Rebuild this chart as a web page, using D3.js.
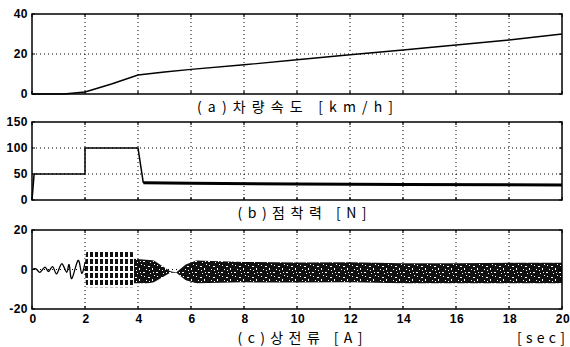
<!DOCTYPE html>
<html>
<head>
<meta charset="utf-8">
<script src="https://cdn.jsdelivr.net/npm/d3@7"></script>
<style>
  body { margin: 0; background: #fff; }
  svg text { fill: #000; }
  .tick-label { font-family: "Liberation Sans", Arial, sans-serif; font-weight: bold; font-size: 12px; letter-spacing: 0.5px; }
  .title { font-family: "Noto Sans CJK KR", "Liberation Sans", sans-serif; font-size: 14px; }
</style>
</head>
<body>
<div class="chart"></div>
<script>
// shared x axis
var timeTicks = [0, 2, 4, 6, 8, 10, 12, 14, 16, 18, 20];

// (a) vehicle speed
var speedT = [0, 1.2, 2, 3, 4, 5, 6, 8, 10, 12, 14, 16, 18, 20];
var speedV = [0, 0, 1, 5, 9.5, 11, 12.3, 14.6, 17.1, 19.6, 22, 24.5, 27, 30];
var speedTicks = [0, 20, 40];

// (b) adhesion force
var forceT = [0, 0.08, 2, 2, 4, 4.2, 6, 10, 14, 20];
var forceV = [0, 50, 50, 100, 100, 33, 32, 31, 30, 29];
var forceTicks = [0, 50, 100, 150];

// (c) phase current: start-up wave, then envelope of the dense band
var waveT = [0, 0.15, 0.3, 0.49, 0.62, 0.78, 0.93, 1.12, 1.31, 1.4, 1.5, 1.74, 1.88, 2.0];
var waveV = [0, 0.3, -1.4, 1.2, -1.0, 1.5, -2.2, 2.9, -1.4, 2.5, -4.6, 4.6, -2.0, 3.5];
var blockT = [2.0, 2.05, 3.8, 3.85];
var blockHi = [3.5, 8.8, 8.8, 5.5];
var blockLo = [-2, -9, -9, -7];
var bandT = [3.85, 4.3, 4.45, 4.6, 5.2, 5.3, 5.45, 5.8, 6.2, 8, 10, 12, 14, 16, 18, 20];
var bandHi = [5.5, 5, 4.8, 4.5, -0.8, -1.2, -1.4, 2.5, 4.5, 3.8, 3.6, 3.7, 3.2, 3.2, 3.4, 3.4];
var bandLo = [-7, -7, -6.8, -6.5, -1.8, -1.6, -1.6, -5.5, -7, -6.5, -6.6, -6.5, -7, -7, -7, -7];
var currentTicks = [-20, 0, 20];

var width = 570, height = 347;
var x = d3.scaleLinear().domain([0, 20]).range([32, 562]);

var svg = d3.select(".chart").append("svg")
  .attr("width", width)
  .attr("height", height);

// speckle textures for the noisy current
var defs = svg.append("defs");
var speck = defs.append("pattern").attr("id", "speck")
  .attr("patternUnits", "userSpaceOnUse").attr("width", 13).attr("height", 11);
speck.append("rect").attr("width", 13).attr("height", 11).attr("fill", "#111");
[[1, 1, 1, 1], [5, 2, 2, 1], [3, 5, 1, 1], [9, 4, 1, 2], [0, 8, 2, 1], [7, 9, 1, 1], [11, 0, 1, 1], [10, 8, 1, 1], [6, 6, 1, 1]].forEach(function (r) {
  speck.append("rect").attr("x", r[0]).attr("y", r[1]).attr("width", r[2]).attr("height", r[3]).attr("fill", "#fff");
});
var bars = defs.append("pattern").attr("id", "bars")
  .attr("patternUnits", "userSpaceOnUse").attr("width", 5).attr("height", 7);
bars.append("rect").attr("width", 5).attr("height", 7).attr("fill", "#fff");
bars.append("rect").attr("width", 3).attr("height", 5).attr("fill", "#111");

var panels = [
  { top: 14, bottom: 94, domain: [0, 40], ticks: speedTicks },
  { top: 122, bottom: 200, domain: [0, 150], ticks: forceTicks },
  { top: 230, bottom: 309, domain: [-20, 20], ticks: currentTicks }
];

panels.forEach(function (p) {
  p.y = d3.scaleLinear().domain(p.domain).range([p.bottom, p.top]);
  var g = svg.append("g");
  p.g = g;

  // dotted grid
  g.selectAll(".vgrid").data(timeTicks.slice(1, -1)).join("line")
    .attr("x1", function (d) { return x(d); }).attr("x2", function (d) { return x(d); })
    .attr("y1", p.top).attr("y2", p.bottom)
    .attr("stroke", "#000").attr("stroke-width", 1).attr("stroke-dasharray", "1,3");
  g.selectAll(".hgrid").data(p.ticks.slice(1, -1)).join("line")
    .attr("x1", x(0)).attr("x2", x(20))
    .attr("y1", function (d) { return p.y(d); }).attr("y2", function (d) { return p.y(d); })
    .attr("stroke", "#000").attr("stroke-width", 1).attr("stroke-dasharray", "1,3");

  // y tick labels
  g.selectAll(".ylab").data(p.ticks).join("text")
    .attr("class", "tick-label")
    .attr("x", 28).attr("y", function (d) { return p.y(d) + 4; })
    .attr("text-anchor", "end")
    .text(function (d) { return d; });
});

function drawFrame(p) {
  var g = p.g;
  g.append("rect")
    .attr("x", x(0)).attr("y", p.top)
    .attr("width", x(20) - x(0)).attr("height", p.bottom - p.top)
    .attr("fill", "none").attr("stroke", "#000").attr("stroke-width", 1.5);
  // inward ticks
  g.selectAll(".xt").data(timeTicks).join("path")
    .attr("d", function (d) {
      return "M" + x(d) + "," + p.bottom + "v-3M" + x(d) + "," + p.top + "v3";
    })
    .attr("stroke", "#000").attr("stroke-width", 1.2);
  g.selectAll(".yt").data(p.ticks).join("path")
    .attr("d", function (d) {
      return "M" + x(0) + "," + p.y(d) + "h3M" + x(20) + "," + p.y(d) + "h-3";
    })
    .attr("stroke", "#000").attr("stroke-width", 1.2);
}

// (a) speed
var pa = panels[0];
pa.g.append("path")
  .datum(d3.zip(speedT, speedV))
  .attr("fill", "none").attr("stroke", "#000").attr("stroke-width", 1.4)
  .attr("d", d3.line().x(function (d) { return x(d[0]); }).y(function (d) { return pa.y(d[1]); }));
drawFrame(pa);

// (b) adhesion force: thin up to the drop, then heavy
var pb = panels[1];
var forcePts = d3.zip(forceT, forceV);
var lineB = d3.line().x(function (d) { return x(d[0]); }).y(function (d) { return pb.y(d[1]); });
pb.g.append("path").datum(forcePts.filter(function (d) { return d[0] <= 4.2; }))
  .attr("fill", "none").attr("stroke", "#000").attr("stroke-width", 1.5).attr("d", lineB);
pb.g.append("path").datum(forcePts.filter(function (d) { return d[0] >= 4.2; }))
  .attr("fill", "none").attr("stroke", "#000").attr("stroke-width", 3).attr("d", lineB);
drawFrame(pb);

// (c) phase current
var pc = panels[2];
pc.g.append("path")
  .datum(d3.zip(waveT, waveV))
  .attr("fill", "none").attr("stroke", "#000").attr("stroke-width", 1.3)
  .attr("d", d3.line().curve(d3.curveCardinal).x(function (d) { return x(d[0]); }).y(function (d) { return pc.y(d[1]); }));
var area = d3.area()
  .x(function (d) { return x(d[0]); })
  .y0(function (d) { return pc.y(d[2]); })
  .y1(function (d) { return pc.y(d[1]); });
pc.g.append("path")
  .datum(d3.zip(blockT, blockHi, blockLo))
  .attr("fill", "url(#bars)").attr("d", area);
pc.g.append("path")
  .datum(d3.zip(bandT, bandHi, bandLo))
  .attr("fill", "url(#speck)").attr("d", area);
drawFrame(pc);

// x tick labels
svg.selectAll(".xlab").data(timeTicks).join("text")
  .attr("class", "tick-label")
  .attr("x", function (d) { return x(d) + 1; }).attr("y", 323)
  .attr("text-anchor", "middle")
  .text(function (d) { return d; });

// panel captions
var captions = [
  { text: "(a)차량속도 [km/h]", cx: 295, y: 112, w: 196 },
  { text: "(b)점착력 [N]", cx: 302, y: 218, w: 129 },
  { text: "(c)상전류 [A]", cx: 300, y: 343, w: 125 }
];
svg.selectAll(".title").data(captions).join("text")
  .attr("class", "title")
  .attr("x", function (d) { return d.cx - d.w / 2; }).attr("y", function (d) { return d.y; })
  .attr("textLength", function (d) { return d.w; }).attr("lengthAdjust", "spacing")
  .text(function (d) { return d.text; });
svg.append("text").attr("class", "title")
  .attr("x", 517).attr("y", 343)
  .attr("textLength", 48).attr("lengthAdjust", "spacing")
  .text("[sec]");
</script>
</body>
</html>
